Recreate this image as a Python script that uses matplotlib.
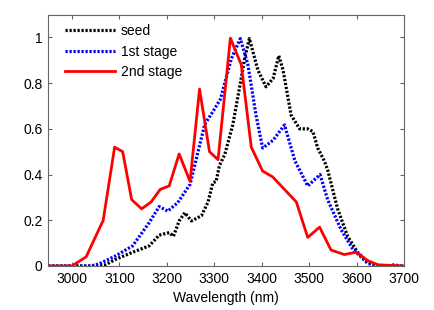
import matplotlib
matplotlib.use("Agg")
import matplotlib.pyplot as plt

plt.rcParams['font.family'] = ['Liberation Sans', 'DejaVu Sans']

# seed
seed_wl = [2950, 3000, 3050, 3070, 3093, 3128, 3163, 3184, 3205, 3214, 3226, 3238, 3252,
           3273, 3287, 3297, 3304, 3311, 3322, 3339, 3353, 3364, 3374, 3392, 3409, 3424,
           3436, 3445, 3462, 3480, 3497, 3508, 3518, 3532, 3539, 3560, 3581, 3602, 3624,
           3645, 3670, 3680, 3690, 3700]
seed_val = [0, 0, 0, 0.005, 0.03, 0.06, 0.088, 0.135, 0.146, 0.13, 0.197, 0.233, 0.197,
            0.22, 0.28, 0.364, 0.37, 0.44, 0.487, 0.617, 0.777, 0.907, 0.995, 0.857, 0.784, 0.82,
            0.92, 0.857, 0.66, 0.60, 0.60, 0.588, 0.516, 0.46, 0.42, 0.25, 0.13, 0.06, 0.016,
            0.003, 0, 0.006, 0, 0]

# 1st stage
s1_wl = [2950, 3000, 3040, 3058, 3093, 3128, 3163, 3184, 3202, 3223, 3249, 3280, 3297,
         3313, 3336, 3355, 3371, 3388, 3402, 3424, 3448, 3470, 3497, 3523, 3539, 3567,
         3592, 3624, 3650, 3700]
s1_val = [0, 0, 0, 0.01, 0.045, 0.088, 0.19, 0.26, 0.24, 0.277, 0.357, 0.62, 0.675,
          0.73, 0.907, 0.995, 0.88, 0.66, 0.516, 0.55, 0.617, 0.46, 0.35, 0.40, 0.29, 0.16,
          0.074, 0.01, 0, 0]

# 2nd stage
s2_wl = [2950, 3000, 3030, 3066, 3090, 3107, 3126, 3147, 3167, 3186, 3205, 3226, 3249,
         3269, 3290, 3308, 3334, 3357, 3378, 3402, 3423, 3473, 3497, 3522, 3546, 3574,
         3599, 3624, 3645, 3700]
s2_val = [0, 0, 0.04, 0.2, 0.52, 0.50, 0.29, 0.25, 0.28, 0.335, 0.35, 0.49, 0.37,
          0.774, 0.50, 0.465, 0.997, 0.88, 0.52, 0.415, 0.39, 0.28, 0.125, 0.17, 0.07, 0.05,
          0.06, 0.023, 0.005, 0]

xticks = [3000, 3100, 3200, 3300, 3400, 3500, 3600, 3700]
yticks = [0, 0.2, 0.4, 0.6, 0.8, 1]
ytick_labels = ['0', '0.2', '0.4', '0.6', '0.8', '1']

fig = plt.figure(figsize=(4.34, 3.10), dpi=100)
ax = fig.add_axes([0.111, 0.142, 0.82, 0.811])

ax.plot(seed_wl, seed_val, color='black', linestyle=(0, (0.7, 0.55)), linewidth=2.3, label='seed')
ax.plot(s1_wl, s1_val, color='blue', linestyle=(0, (0.7, 0.55)), linewidth=2.3, label='1st stage')
ax.plot(s2_wl, s2_val, color='red', linestyle='-', linewidth=2, label='2nd stage')

ax.set_xlim(2950, 3700)
ax.set_ylim(0, 1.1)
ax.set_xticks(xticks)
ax.set_yticks(yticks)
ax.set_yticklabels(ytick_labels)
ax.tick_params(direction='in', top=True, right=True, labelsize=10, length=3,
               color='#666666', pad=4)
for s in ax.spines.values():
    s.set_color('#666666')
ax.set_xlabel('Wavelength (nm)', fontsize=10, labelpad=4)

ax.legend(loc='upper left', bbox_to_anchor=(0.02, 1.0), frameon=False, fontsize=10,
          handlelength=3.6, handletextpad=0.4, labelspacing=0.45, borderaxespad=0.3)

fig.savefig('out.png', dpi=100)
